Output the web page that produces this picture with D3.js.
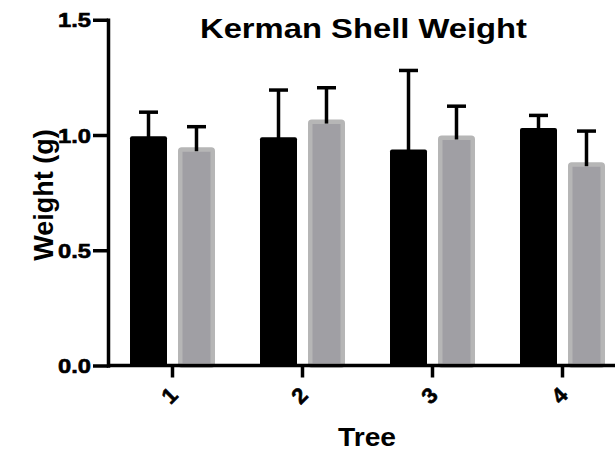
<!DOCTYPE html>
<html>
<head>
<meta charset="utf-8">
<script src="https://cdn.jsdelivr.net/npm/d3@7"></script>
<style>
  html, body { margin: 0; padding: 0; background: #fff; }
  svg { display: block; }
  text { font-family: "Liberation Sans", Arial, Helvetica, sans-serif; font-weight: bold; fill: #000; }
</style>
</head>
<body>
<svg id="chart" width="615" height="450"></svg>
<script>
// Tree numbers on the x axis
const trees = ["1", "2", "3", "4"];
// Mean shell weight (g) per tree, two groups
const meanBlack = [0.995, 0.990, 0.937, 1.030];
const meanGray  = [0.947, 1.067, 0.998, 0.882];
// Upper error bar length (g)
const errBlack = [0.104, 0.205, 0.343, 0.055];
const errGray  = [0.089, 0.138, 0.127, 0.135];
// Y axis ticks
const yTicks = [0.0, 0.5, 1.0, 1.5];

const svg = d3.select("#chart");

const y = d3.scaleLinear().domain([0, 1.5]).range([365.5, 19.75]);
const x = d3.scaleBand().domain(trees).range([107.5, 627.5]).padding(0);
const xs = d3.scaleBand().domain(["black", "gray"]).range([0, x.bandwidth()])
  .paddingInner(0.229).paddingOuter(0.469);

const rows = trees.flatMap((t, i) => [
  { tree: t, key: "black", v: meanBlack[i], e: errBlack[i] },
  { tree: t, key: "gray",  v: meanGray[i],  e: errGray[i] }
]);

// Bars
const sw = 4.5;
const bars = svg.append("g").attr("class", "bars");
rows.forEach(d => {
  const x0 = x(d.tree) + xs(d.key);
  if (d.key === "black") {
    bars.append("rect")
      .attr("x", x0).attr("y", y(d.v))
      .attr("width", xs.bandwidth()).attr("height", y(0) - y(d.v))
      .attr("rx", 2).attr("fill", "#000");
  } else {
    bars.append("rect")
      .attr("x", x0 + sw / 2).attr("y", y(d.v) + sw / 2)
      .attr("width", xs.bandwidth() - sw).attr("height", y(0) - y(d.v) - sw / 2)
      .attr("rx", 1.5)
      .attr("fill", "#a09fa4").attr("stroke", "#b6b6b6").attr("stroke-width", sw);
  }
});

// Error bars (upper only), drawn above the bars
const eb = svg.append("g").attr("class", "errors")
  .attr("stroke", "#000").attr("stroke-width", 3.5).attr("fill", "none");
rows.forEach(d => {
  const cx = x(d.tree) + xs(d.key) + xs.bandwidth() / 2;
  eb.append("line").attr("x1", cx).attr("x2", cx)
    .attr("y1", y(d.v) + 4).attr("y2", y(d.v + d.e));
  eb.append("line").attr("x1", cx - 9.5).attr("x2", cx + 9.5)
    .attr("y1", y(d.v + d.e)).attr("y2", y(d.v + d.e));
});

// Y axis
const yAxis = svg.append("g")
  .attr("transform", "translate(108,0)")
  .call(d3.axisLeft(y).tickValues(yTicks).tickFormat(d3.format(".1f")).tickSize(15).tickSizeOuter(0).tickPadding(2));
yAxis.select(".domain").attr("stroke-width", 3.5).attr("stroke-linecap", "square");
yAxis.selectAll(".tick line").attr("stroke-width", 3.5);
yAxis.selectAll(".tick text")
  .attr("font-size", 20).attr("dy", "0.36em")
  .attr("stroke", "#000").attr("stroke-width", 0.6)
  .attr("textLength", 33).attr("lengthAdjust", "spacingAndGlyphs");

// X axis
const xAxis = svg.append("g")
  .attr("transform", "translate(0,365.5)")
  .call(d3.axisBottom(x).tickSize(12).tickSizeOuter(0));
xAxis.select(".domain").attr("stroke-width", 3.5).attr("d", "M108,0H615");
xAxis.selectAll(".tick line").attr("stroke-width", 3.5);
xAxis.selectAll(".tick text")
  .attr("font-size", 22)
  .attr("stroke", "#000").attr("stroke-width", 0.6)
  .attr("text-anchor", "middle")
  .attr("dominant-baseline", "central")
  .attr("y", 0).attr("dy", 0)
  .attr("transform", "translate(-3,30) rotate(-45)");

// Title
svg.append("text")
  .attr("x", 363.5).attr("y", 38)
  .attr("text-anchor", "middle").attr("font-size", 27)
  .attr("textLength", 327).attr("lengthAdjust", "spacingAndGlyphs")
  .text("Kerman Shell Weight");

// Axis titles
svg.append("text")
  .attr("x", 367).attr("y", 446)
  .attr("text-anchor", "middle").attr("font-size", 25)
  .attr("textLength", 58).attr("lengthAdjust", "spacingAndGlyphs")
  .text("Tree");

svg.append("text")
  .attr("transform", "translate(53,195) rotate(-90)")
  .attr("text-anchor", "middle").attr("font-size", 27)
  .text("Weight (g)");
</script>
</body>
</html>
